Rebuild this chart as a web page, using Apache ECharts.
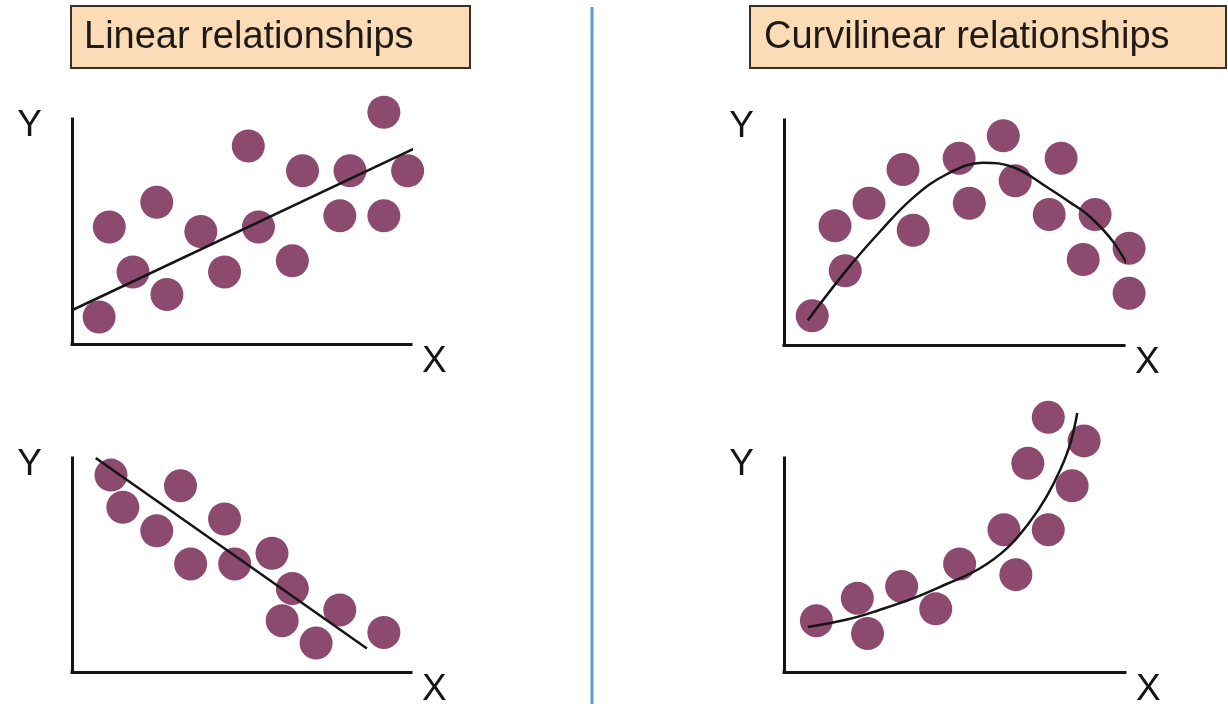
<!DOCTYPE html>
<html>
<head>
<meta charset="utf-8">
<title>Linear and curvilinear relationships</title>
<script src="https://cdn.jsdelivr.net/npm/echarts@6/dist/echarts.min.js"></script>
<style>
  html, body { margin: 0; padding: 0; background: #fff; }
  #main { width: 1228px; height: 704px; }
</style>
</head>
<body>
<div id="main"></div>
<script>
// points, each panel on a 0-10 scale
var linearUpPoints = [[0.8, 1.2], [1.1, 5.2], [1.8, 3.2], [2.5, 6.3], [2.8, 2.2], [3.8, 5.0], [4.5, 3.2], [5.2, 8.8],
    [5.5, 5.2], [6.5, 3.7], [6.8, 7.7], [7.9, 5.7], [8.2, 7.7], [9.2, 10.3], [9.2, 5.7], [9.9, 7.7]];
var linearUpFit = [[0.0, 1.5], [10.4, 8.9]];

var linearDownPoints = [[1.15, 9.2], [1.5, 7.7], [3.2, 8.7], [2.5, 6.6], [4.5, 7.15], [3.5, 5.05], [4.8, 5.05],
    [5.9, 5.55], [6.5, 3.9], [7.9, 2.9], [6.2, 2.4], [7.2, 1.35], [9.2, 1.85]];
var linearDownFit = [[0.7, 10.0], [8.7, 1.1]];

var archPoints = [[0.83, 1.3], [1.5, 5.3], [1.8, 3.3], [2.5, 6.3], [3.5, 7.8], [3.8, 5.1], [5.15, 8.3], [5.45, 6.3],
    [6.45, 9.3], [6.8, 7.3], [7.8, 5.8], [8.15, 8.3], [8.8, 3.8], [9.15, 5.8], [10.15, 4.3], [10.15, 2.3]];
var archFit = [[0.7, 1.1], [1.85, 3.35], [2.8, 5.0], [3.8, 6.55], [4.8, 7.6], [5.85, 8.1], [6.75, 7.9],
    [7.75, 7.0], [8.4, 6.35], [9.0, 5.7], [9.7, 4.55], [10.3, 3.0]];

var growthPoints = [[0.95, 2.4], [2.15, 3.45], [2.45, 1.8], [3.45, 4.0], [4.45, 2.95], [5.15, 5.05], [6.45, 6.65],
    [6.8, 4.55], [7.15, 9.75], [7.75, 6.65], [7.75, 11.9], [8.45, 8.7], [8.8, 10.8]];
var growthFit = [[0.7, 2.1], [1.85, 2.45], [2.8, 2.9], [3.8, 3.45], [4.75, 4.1], [5.75, 4.85], [6.55, 5.8],
    [7.2, 7.0], [7.7, 8.2], [8.1, 9.45], [8.4, 10.7], [8.6, 12.1]];

var titles = ['Linear relationships', 'Curvilinear relationships'];
var axisNames = ['X', 'Y'];

window.onload = function () {
    var myChart = echarts.init(document.getElementById('main'));
    var font = 'Liberation Sans, Arial, sans-serif';
    var dotColor = '#8c4a6e';
    var ink = '#151515';

    var grids = [
        {left: 72, top: 119, width: 339, height: 225, outerBoundsMode: 'none'},
        {left: 784, top: 120, width: 340, height: 225, outerBoundsMode: 'none'},
        {left: 72, top: 458, width: 339, height: 214, outerBoundsMode: 'none'},
        {left: 784, top: 458, width: 341, height: 214, outerBoundsMode: 'none'}
    ];

    function makeAxis(dim, i) {
        var isX = dim === 'x';
        return {
            type: 'value',
            gridIndex: i,
            min: 0,
            max: 10,
            name: isX ? axisNames[0] : axisNames[1],
            nameLocation: 'end',
            nameGap: isX ? 11 : -7,
            nameTextStyle: isX ? {
                fontFamily: font, fontSize: 37, color: ink,
                align: 'left', verticalAlign: 'top', lineHeight: 36
            } : {
                fontFamily: font, fontSize: 37, color: ink,
                align: 'right', verticalAlign: 'middle', padding: [0, 30, 0, 0]
            },
            axisLine: {show: true, onZero: false, lineStyle: {color: ink, width: 3, cap: 'square'}},
            axisTick: {show: false},
            axisLabel: {show: false},
            splitLine: {show: false}
        };
    }

    var xAxes = [], yAxes = [];
    for (var i = 0; i < 4; i++) {
        xAxes.push(makeAxis('x', i));
        yAxes.push(makeAxis('y', i));
    }

    var panels = [
        {points: linearUpPoints, fit: linearUpFit, smooth: false},
        {points: archPoints, fit: archFit, smooth: 0.4},
        {points: linearDownPoints, fit: linearDownFit, smooth: false},
        {points: growthPoints, fit: growthFit, smooth: 0.4}
    ];

    var series = [];
    panels.forEach(function (p, i) {
        series.push({
            type: 'scatter',
            xAxisIndex: i,
            yAxisIndex: i,
            data: p.points,
            symbolSize: 33,
            clip: false,
            itemStyle: {color: dotColor, opacity: 1},
            z: 2
        });
        series.push({
            type: 'line',
            xAxisIndex: i,
            yAxisIndex: i,
            data: p.fit,
            smooth: p.smooth,
            symbol: 'none',
            clip: false,
            lineStyle: {color: ink, width: 2.5},
            z: 3
        });
    });

    var boxText = {fontFamily: font, fontSize: 38, fontWeight: 'normal', color: '#1e1a17', lineHeight: 44};
    var option = {
        backgroundColor: '#ffffff',
        animation: false,
        title: [
            {text: titles[0], left: 71, top: 6, padding: [10, 57, 8, 13],
                backgroundColor: '#fcdcb7', borderColor: '#3b3026', borderWidth: 2, textStyle: boxText},
            {text: titles[1], left: 750, top: 6, padding: [10, 57, 8, 14],
                backgroundColor: '#fcdcb7', borderColor: '#3b3026', borderWidth: 2, textStyle: boxText}
        ],
        graphic: [{
            type: 'line',
            shape: {x1: 592, y1: 7, x2: 592, y2: 704},
            style: {stroke: '#5b9bd5', lineWidth: 3}
        }],
        grid: grids,
        xAxis: xAxes,
        yAxis: yAxes,
        series: series
    };
    myChart.setOption(option);
};
</script>
</body>
</html>
